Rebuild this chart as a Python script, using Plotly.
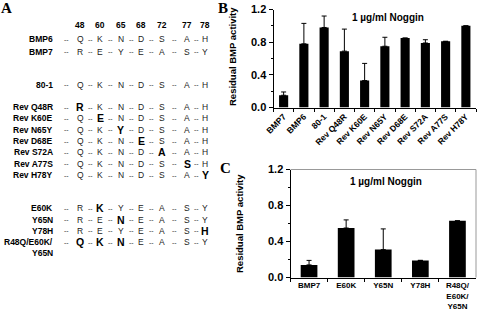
import plotly.graph_objects as go

W, H = 477, 315

# ---------------- data ----------------
positions = ["48", "60", "65", "68", "72", "77", "78"]
row_labels = ["BMP6", "BMP7", "80-1", "Rev Q48R", "Rev K60E", "Rev N65Y", "Rev D68E",
              "Rev S72A", "Rev A77S", "Rev H78Y", "E60K", "Y65N", "Y78H",
              "R48Q/E60K/<br>Y65N"]
row_seqs = ["QKNDSAH", "REYEASY", "QKNDSAH", "RKNDSAH", "QENDSAH", "QKYDSAH", "QKNESAH",
            "QKNDAAH", "QKNDSSH", "QKNDSAY", "RKYEASY", "RENEASY", "REYEASH", "QKNEASY"]
row_bold = [[], [], [], [0], [1], [2], [3], [4], [5], [6], [1], [2], [6], [0, 1, 2]]

b_cats = ["BMP7", "BMP6", "80-1", "Rev Q48R", "Rev K60E", "Rev N65Y", "Rev D68E",
          "Rev S72A", "Rev A77S", "Rev H78Y"]
b_vals = [0.15, 0.78, 0.98, 0.69, 0.33, 0.75, 0.85, 0.79, 0.81, 1.0]
b_err = [0.04, 0.25, 0.14, 0.27, 0.21, 0.11, None, 0.04, None, None]

c_cats = ["BMP7", "E60K", "Y65N", "Y78H", "R48Q/<br>E60K/<br>Y65N"]
c_vals = [0.14, 0.55, 0.31, 0.19, 0.63]
c_err = [0.05, 0.09, 0.23, None, None]

y_ticks = [0.0, 0.4, 0.8, 1.2]
panel_title = "1 µg/ml Noggin"
y_title = "Residual BMP activity"

# ---------------- layout helpers ----------------
FONT = "Arial, Liberation Sans, sans-serif"
SERIF = "Times New Roman, Liberation Serif, serif"


def px(x):
    return x / W


def py(y):
    return 1 - y / H


col_x = [80, 100, 120.5, 141, 162, 187, 205]
dash_x = [66, 90, 110, 131, 151.5, 174.5, 196]
row_y = [39, 52, 85, 107, 118, 129.5, 141, 152, 163.5, 175, 208, 219.5, 231, 242]
label_right = 55
header_y = 25

annotations = []

# Panel letters
for letter, (lx, ly) in zip(["A", "B", "C"], [(6, 8), (223, 8), (225, 168)]):
    annotations.append(dict(text=f"<b>{letter}</b>", x=px(lx), y=py(ly), xref="paper", yref="paper",
                            showarrow=False, xanchor="center", yanchor="middle",
                            font=dict(family=SERIF, size=15, color="black")))

# Column headers
for p, cx in zip(positions, col_x):
    annotations.append(dict(text=p, x=px(cx), y=py(header_y), xref="paper", yref="paper",
                            showarrow=False, xanchor="center", yanchor="middle",
                            font=dict(family=FONT, size=8.5, color="black", weight="bold")))

# Rows
for lab, seq, bold, ry in zip(row_labels, row_seqs, row_bold, row_y):
    for k, line in enumerate(lab.split("<br>")):
        annotations.append(dict(text=line, x=px(label_right), y=py(ry + 11 * k), xref="paper", yref="paper",
                                showarrow=False, xanchor="right", yanchor="middle",
                                font=dict(family=FONT, size=8.5, color="black", weight="bold")))
    for dx in dash_x:
        annotations.append(dict(text="--", x=px(dx), y=py(ry), xref="paper", yref="paper",
                                showarrow=False, xanchor="center", yanchor="middle",
                                font=dict(family=FONT, size=7, color="#333333")))
    for j, ch in enumerate(seq):
        isb = j in bold
        annotations.append(dict(text=ch, x=px(col_x[j]), y=py(ry), xref="paper", yref="paper",
                                showarrow=False, xanchor="center", yanchor="middle",
                                font=dict(family=FONT, size=10.5 if isb else 8.5,
                                          color="black" if isb else "#222222",
                                          weight="bold" if isb else "normal")))

# Y-axis titles
for (tx, ty) in [(232, 57), (239, 223)]:
    annotations.append(dict(text=y_title, x=px(tx), y=py(ty), xref="paper", yref="paper",
                            showarrow=False, textangle=-90, xanchor="center", yanchor="middle",
                            font=dict(family=FONT, size=9.5, color="black", weight="bold")))

# Panel titles
for (tx, ty) in [(388, 17), (386, 182)]:
    annotations.append(dict(text=panel_title, x=px(tx), y=py(ty), xref="paper", yref="paper",
                            showarrow=False, xanchor="center", yanchor="middle",
                            font=dict(family=FONT, size=10, color="black", weight="bold")))

fig = go.Figure()

fig.add_trace(go.Bar(
    x=b_cats, y=b_vals, xaxis="x", yaxis="y",
    marker=dict(color="black", line=dict(width=0)),
    error_y=dict(type="data", array=b_err, arrayminus=[0] * len(b_err), symmetric=False,
                 color="black", thickness=1, width=2.5),
))
fig.add_trace(go.Bar(
    x=c_cats, y=c_vals, xaxis="x2", yaxis="y2",
    marker=dict(color="black", line=dict(width=0)),
    error_y=dict(type="data", array=c_err, arrayminus=[0] * len(c_err), symmetric=False,
                 color="black", thickness=1, width=2.5),
))

yaxis_common = dict(
    range=[0, 1.2], tickvals=y_ticks, tickformat=".1f", ticks="outside", ticklen=4,
    tickwidth=1, tickcolor="black", showline=True, linecolor="black", linewidth=1,
    showgrid=False, zeroline=False, automargin=False,
    tickfont=dict(family=FONT, size=11, color="black", weight="bold"),
    minor=dict(dtick=0.2, ticks="outside", ticklen=2, tickcolor="black", showgrid=False),
)
xaxis_common = dict(
    type="category", tickson="boundaries", ticks="outside", ticklen=3, tickcolor="black",
    showline=True, linecolor="black", linewidth=1, showgrid=False, zeroline=False,
    automargin=False,
)

fig.update_layout(
    width=W, height=H, margin=dict(l=0, r=0, t=0, b=0),
    paper_bgcolor="white", plot_bgcolor="white", showlegend=False,
    bargap=0.55, hovermode=False,
    xaxis=dict(domain=[px(273.5), px(476)], anchor="y", tickangle=-45,
               tickfont=dict(family=FONT, size=8.5, color="black", weight="bold"),
               **xaxis_common),
    yaxis=dict(domain=[py(107.5), py(9.5)], anchor="x", **yaxis_common),
    xaxis2=dict(domain=[px(290.5), px(476)], anchor="y2", tickangle=0,
                tickfont=dict(family=FONT, size=8, color="black", weight="bold"),
                **xaxis_common),
    yaxis2=dict(domain=[py(277.5), py(169.5)], anchor="x2", **yaxis_common),
    annotations=annotations,
    shapes=[
        dict(type="line", xref="x2 domain", yref="y2 domain", x0=0, x1=1, y0=1, y1=1,
             line=dict(color="#999999", width=1)),
        dict(type="line", xref="x2 domain", yref="y2 domain", x0=1, x1=1, y0=0, y1=1,
             line=dict(color="#999999", width=1)),
    ],
)

fig.write_html("out.html",
               config={"displayModeBar": False, "staticPlot": True},
               post_script="document.body.style.margin='0';document.body.style.overflow='hidden';")
